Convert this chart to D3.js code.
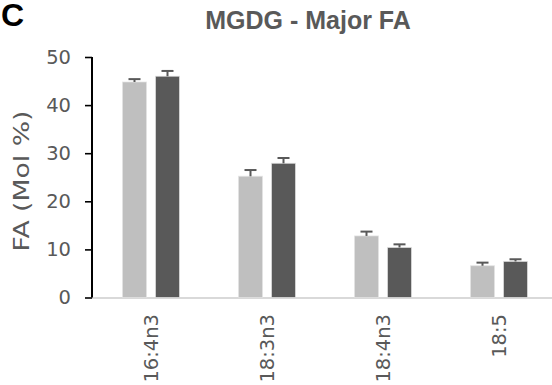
<!DOCTYPE html>
<meta charset="utf-8">
<script src="https://d3js.org/d3.v7.min.js"></script>
<style>
  body { margin: 0; background: #fff; }
  text { font-family: "DejaVu Sans", sans-serif; }
</style>
<body>
<script>

// chart data
var categories = ["16:4n3", "18:3n3", "18:4n3", "18:5"];
var lightValues = [44.8, 25.2, 12.8, 6.6];
var lightErrors = [0.6, 1.3, 0.9, 0.65];
var darkValues = [46.0, 27.9, 10.4, 7.5];
var darkErrors = [1.1, 1.1, 0.65, 0.45];
var yTicks = [0, 10, 20, 30, 40, 50];

var width = 552,
    height = 385;

var svg = d3.select("body").append("svg")
    .attr("width", width)
    .attr("height", height);

// scales
var x = d3.scaleBand()
    .domain(categories)
    .range([93, 557]);

var xInner = d3.scaleBand()
    .domain(["light", "dark"])
    .range([29.5, 86.5])
    .paddingInner(0.2727);

var y = d3.scaleLinear()
    .domain([0, 50])
    .range([297.5, 57]);

var colors = { light: "#bfbfbf", dark: "#595959" };

// build rows: one per bar
var rows = [];
categories.forEach(function(c, i) {
    rows.push({ cat: c, key: "light", value: lightValues[i], err: lightErrors[i] });
    rows.push({ cat: c, key: "dark", value: darkValues[i], err: darkErrors[i] });
});

// panel letter and title
svg.append("text")
    .attr("x", 1)
    .attr("y", 26)
    .style("font-family", "'Liberation Sans', Arial, sans-serif")
    .style("font-weight", "bold")
    .style("font-size", "32px")
    .style("fill", "#000")
    .text("C");

svg.append("text")
    .attr("x", 308)
    .attr("y", 29)
    .attr("text-anchor", "middle")
    .style("font-family", "'Liberation Sans', Arial, sans-serif")
    .style("font-weight", "bold")
    .style("font-size", "25px")
    .style("fill", "#595959")
    .text("MGDG - Major FA");

// x baseline (light gray)
svg.append("line")
    .attr("x1", 92).attr("x2", width)
    .attr("y1", y(0) + 0.5).attr("y2", y(0) + 0.5)
    .style("stroke", "#d9d9d9")
    .style("stroke-width", 2);

// bars
svg.append("g")
    .selectAll("rect")
    .data(rows)
    .enter().append("rect")
    .attr("x", function(d) { return x(d.cat) + xInner(d.key); })
    .attr("y", function(d) { return y(d.value); })
    .attr("width", xInner.bandwidth())
    .attr("height", function(d) { return y(0) - y(d.value); })
    .style("fill", function(d) { return colors[d.key]; })
    .style("stroke", "#e3e3e3")
    .style("stroke-opacity", 0.7)
    .style("stroke-width", 1);

// error bars (upper only)
var err = svg.append("g")
    .selectAll("g")
    .data(rows)
    .enter().append("g")
    .attr("transform", function(d) {
        return "translate(" + (x(d.cat) + xInner(d.key) + xInner.bandwidth() / 2) + ",0)";
    });

err.append("line")
    .attr("x1", 0).attr("x2", 0)
    .attr("y1", function(d) { return y(d.value); })
    .attr("y2", function(d) { return y(d.value + d.err); })
    .style("stroke", "#595959")
    .style("stroke-width", 2);

err.append("line")
    .attr("x1", -6).attr("x2", 6)
    .attr("y1", function(d) { return y(d.value + d.err); })
    .attr("y2", function(d) { return y(d.value + d.err); })
    .style("stroke", "#595959")
    .style("stroke-width", 2);

// y axis
var yAxis = svg.append("g")
    .attr("transform", "translate(92,0)")
    .call(d3.axisLeft(y).tickValues(yTicks).tickSize(7).tickSizeOuter(0).tickPadding(14));

yAxis.select(".domain")
    .attr("d", "M0," + y(50) + "V" + y(0))
    .style("stroke", "#000")
    .style("stroke-width", 2);

yAxis.selectAll(".tick line")
    .style("stroke", "#000")
    .style("stroke-width", 1.6);

yAxis.selectAll(".tick text")
    .style("font-family", "'DejaVu Sans', sans-serif")
    .style("font-size", "19.5px")
    .style("fill", "#595959");

// x labels, rotated
svg.append("g")
    .selectAll("text")
    .data(categories)
    .enter().append("text")
    .attr("transform", function(d) {
        return "translate(" + (x(d) + x.bandwidth() / 2 + 7) + ",314) rotate(-90)";
    })
    .attr("text-anchor", "end")
    .style("font-size", "19.5px")
    .style("fill", "#595959")
    .text(function(d) { return d; });

// y axis title
svg.append("text")
    .attr("transform", "translate(29,181) rotate(-90)")
    .attr("text-anchor", "middle")
    .attr("textLength", 141)
    .attr("lengthAdjust", "spacingAndGlyphs")
    .style("font-size", "21px")
    .style("fill", "#595959")
    .text("FA (Mol %)");

</script>
</body>
